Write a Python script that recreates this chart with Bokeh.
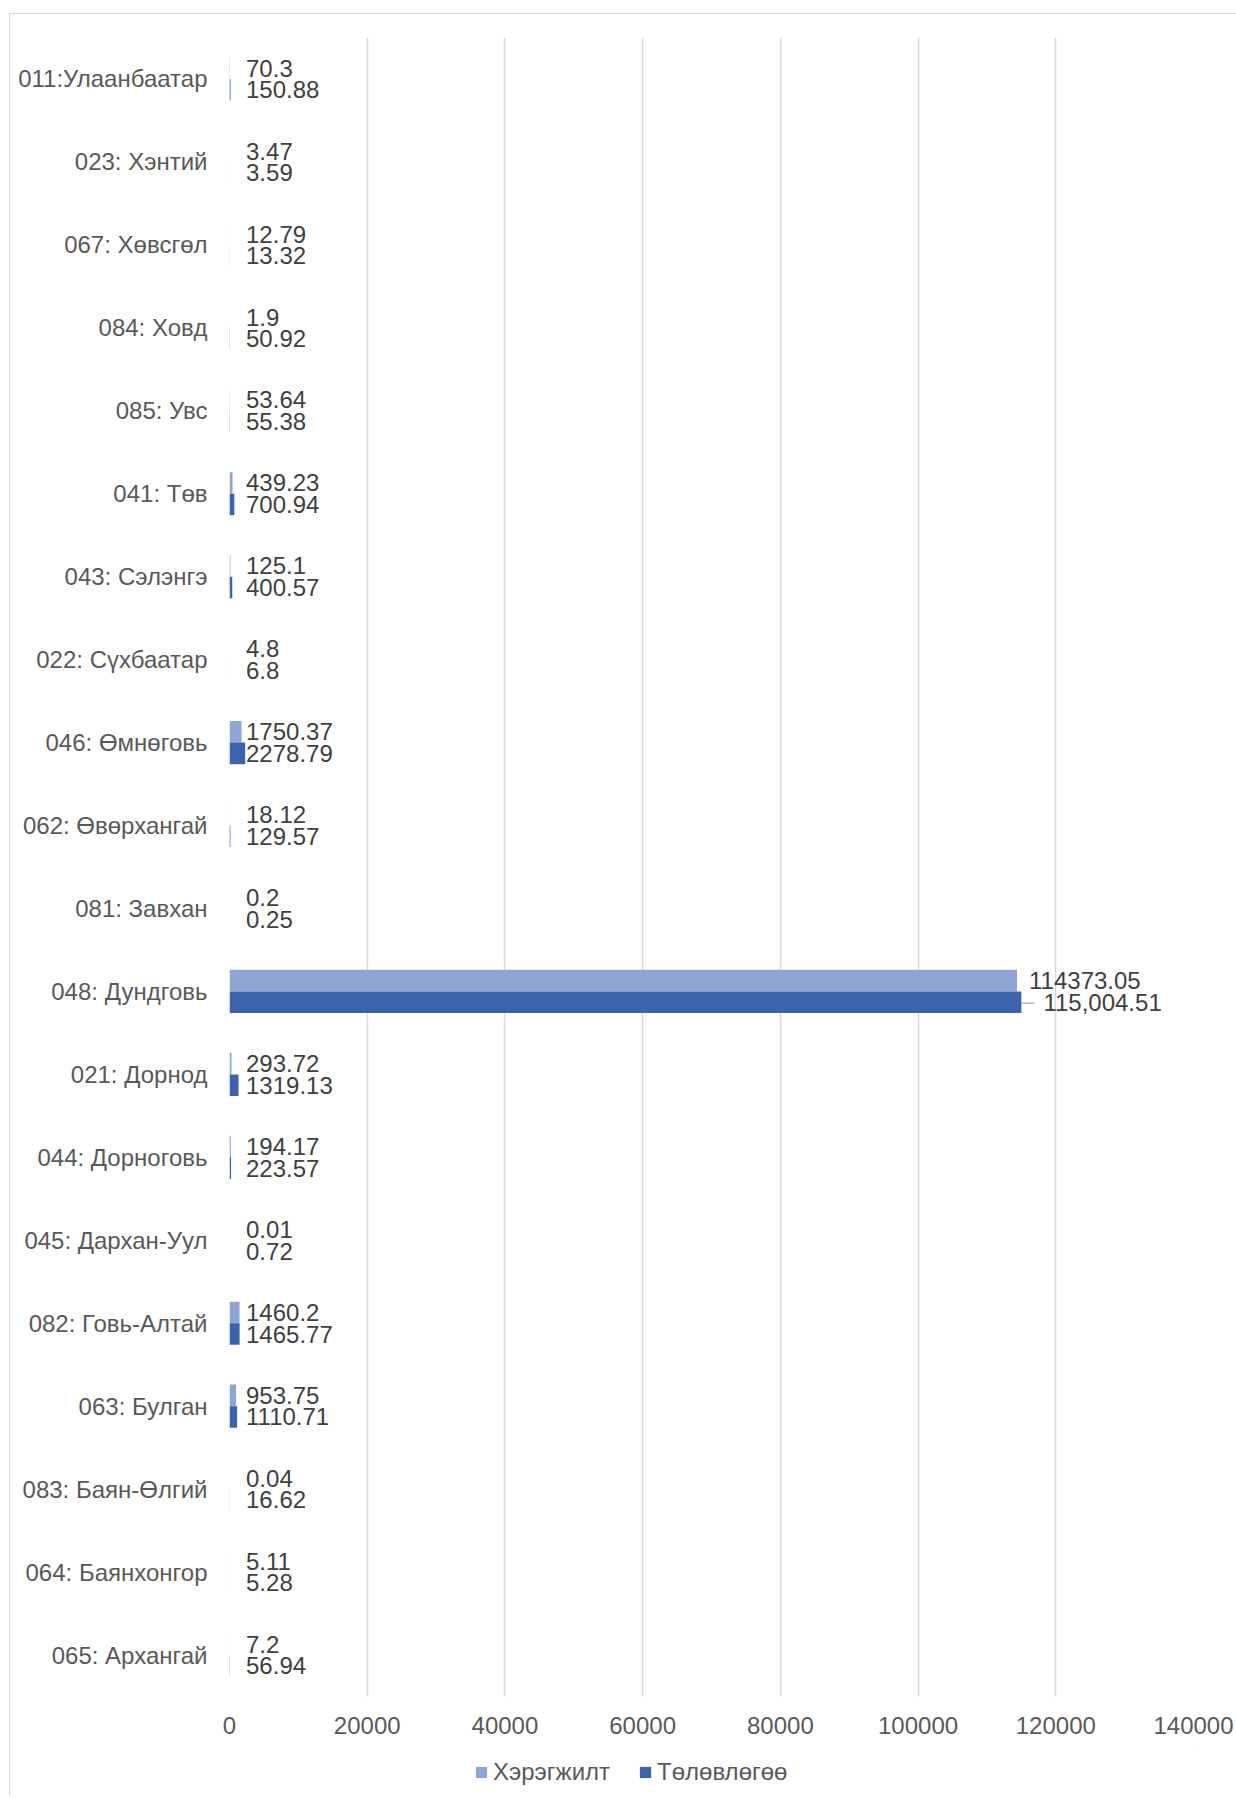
from bokeh.plotting import figure
from bokeh.layouts import column
from bokeh.models import ColumnDataSource, FactorRange, FixedTicker, Legend, LegendItem, NumeralTickFormatter
from bokeh.transform import dodge
from bokeh.core.properties import value
from bokeh.embed import file_html
from bokeh.resources import INLINE

categories = ["011:Улаанбаатар", "023: Хэнтий", "067: Хөвсгөл", "084: Ховд", "085: Увс",
              "041: Төв", "043: Сэлэнгэ", "022: Сүхбаатар", "046: Өмнөговь", "062: Өвөрхангай",
              "081: Завхан", "048: Дундговь", "021: Дорнод", "044: Дорноговь", "045: Дархан-Уул",
              "082: Говь-Алтай", "063: Булган", "083: Баян-Өлгий", "064: Баянхонгор", "065: Архангай"]

actual = [70.3, 3.47, 12.79, 1.9, 53.64, 439.23, 125.1, 4.8, 1750.37, 18.12,
          0.2, 114373.05, 293.72, 194.17, 0.01, 1460.2, 953.75, 0.04, 5.11, 7.2]
planned = [150.88, 3.59, 13.32, 50.92, 55.38, 700.94, 400.57, 6.8, 2278.79, 129.57,
           0.25, 115004.51, 1319.13, 223.57, 0.72, 1465.77, 1110.71, 16.62, 5.28, 56.94]

actual_labels = ["70.3", "3.47", "12.79", "1.9", "53.64", "439.23", "125.1", "4.8", "1750.37", "18.12",
                 "0.2", "114373.05", "293.72", "194.17", "0.01", "1460.2", "953.75", "0.04", "5.11", "7.2"]
planned_labels = ["150.88", "3.59", "13.32", "50.92", "55.38", "700.94", "400.57", "6.8", "2278.79", "129.57",
                  "0.25", "115,004.51", "1319.13", "223.57", "0.72", "1465.77", "1110.71", "16.62", "5.28", "56.94"]

series_names = ["Хэрэгжилт", "Төлөвлөгөө"]
x_ticks = [0, 20000, 40000, 60000, 80000, 100000, 120000, 140000]

LIGHT = "#8FA5D4"
DARK = "#3B64AD"
FONT = "Liberation Sans"
FS = "24px"
GRID = "#d9d9d9"

min_label_x = 2400

src = ColumnDataSource(dict(
    cat=categories,
    actual=actual,
    planned=planned,
    actual_lbl=actual_labels,
    planned_lbl=planned_labels,
    actual_lx=[max(v, min_label_x) for v in actual],
    planned_lx=[max(v, min_label_x) for v in planned],
    actual_off=[12 if v > 10000 else 0 for v in actual],
    planned_off=[22 if v > 10000 else 0 for v in planned],
))

# leader line for the largest planned value label
big = [i for i, v in enumerate(planned) if v > 10000]
leader = ColumnDataSource(dict(
    cat=[categories[i] for i in big],
    x0=[planned[i] for i in big],
    x1=[planned[i] + 1900 for i in big],
))

p = figure(
    width=1226, height=1736,
    y_range=FactorRange(factors=list(reversed(categories)), range_padding=0),
    x_range=(0, 140000),
    output_backend="svg", toolbar_location=None,
    min_border_left=219, min_border_right=43, min_border_top=23, min_border_bottom=54,
)

r1 = p.hbar(y=dodge("cat", 0.13, range=p.y_range), right="actual", left=0, height=0.26,
            source=src, color=LIGHT, line_color=None)
r2 = p.hbar(y=dodge("cat", -0.13, range=p.y_range), right="planned", left=0, height=0.26,
            source=src, color=DARK, line_color=None)

p.segment(x0="x0", x1="x1", y0=dodge("cat", -0.14, range=p.y_range), y1=dodge("cat", -0.14, range=p.y_range),
          source=leader, line_color="#a6a6a6", line_width=1.2)

p.text(x="actual_lx", y=dodge("cat", 0.13, range=p.y_range), text="actual_lbl", x_offset="actual_off",
       source=src, text_font=value(FONT), text_font_size=FS, text_color="#404040",
       text_baseline="middle", text_align="left")
p.text(x="planned_lx", y=dodge("cat", -0.13, range=p.y_range), text="planned_lbl", x_offset="planned_off",
       source=src, text_font=value(FONT), text_font_size=FS, text_color="#404040",
       text_baseline="middle", text_align="left")

p.outline_line_color = None
p.background_fill_color = "white"
p.border_fill_color = "white"

p.ygrid.grid_line_color = None
p.xgrid.grid_line_color = GRID
p.xgrid.grid_line_width = 1.5
p.xgrid.ticker = FixedTicker(ticks=x_ticks)

p.xaxis.ticker = FixedTicker(ticks=x_ticks)
p.xaxis.formatter = NumeralTickFormatter(format="0")
p.xaxis.axis_line_color = None
p.xaxis.major_tick_line_color = None
p.xaxis.minor_tick_line_color = None
p.xaxis.major_tick_out = 0
p.xaxis.major_tick_in = 0
p.xaxis.minor_tick_out = 0
p.xaxis.major_label_standoff = 20
p.xaxis.major_label_text_font = FONT
p.xaxis.major_label_text_font_size = FS
p.xaxis.major_label_text_color = "#595959"

p.yaxis.axis_line_color = None
p.yaxis.major_tick_line_color = None
p.yaxis.major_tick_out = 0
p.yaxis.major_tick_in = 0
p.yaxis.major_label_standoff = 22
p.yaxis.major_label_text_font = FONT
p.yaxis.major_label_text_font_size = FS
p.yaxis.major_label_text_color = "#595959"

# legend strip below the chart (its frame is aligned with the chart's frame by the column layout)
p2 = figure(width=1226, height=46, x_range=(0, 1), y_range=(0, 1),
            output_backend="svg", toolbar_location=None,
            min_border_left=219, min_border_top=0, min_border_right=43, min_border_bottom=0)
p2.axis.visible = False
p2.grid.grid_line_color = None
p2.outline_line_color = None
p2.background_fill_color = "white"
p2.border_fill_color = "white"
l1 = p2.hbar(y=[5], left=[5], right=[6], height=1, color=LIGHT, line_color=None)
l2 = p2.hbar(y=[5], left=[5], right=[6], height=1, color=DARK, line_color=None)

legend = Legend(items=[LegendItem(label=series_names[0], renderers=[l1]),
                       LegendItem(label=series_names[1], renderers=[l2])],
                location=(245, 10), orientation="horizontal")
legend.glyph_width = 14
legend.glyph_height = 14
legend.label_standoff = 5
legend.spacing = 28
legend.padding = 0
legend.margin = 0
legend.border_line_color = None
legend.background_fill_alpha = 0
legend.label_text_font = FONT
legend.label_text_font_size = FS
legend.label_text_color = "#595959"
legend.label_height = 24
p2.add_layout(legend, "center")

layout = column(p, p2, spacing=0,
                styles={"border-left": "1px solid #d9d9d9", "border-top": "1px solid #d9d9d9",
                        "margin-left": "9px", "margin-top": "13px"})

open("out.html", "w").write(file_html(layout, INLINE))
